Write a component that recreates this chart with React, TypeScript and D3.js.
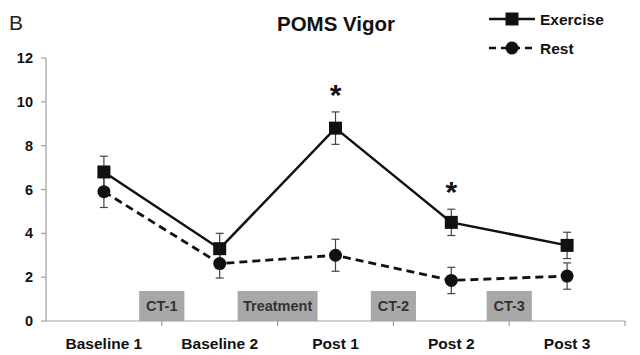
import React from "react";
import * as d3 from "d3";

const categories = ["Baseline 1", "Baseline 2", "Post 1", "Post 2", "Post 3"];
const exerciseMean = [6.8, 3.3, 8.8, 4.5, 3.45];
const exerciseSE = [0.72, 0.7, 0.74, 0.6, 0.6];
const restMean = [5.9, 2.62, 3.0, 1.85, 2.05];
const restSE = [0.72, 0.66, 0.73, 0.6, 0.6];
const yTicks = [0, 2, 4, 6, 8, 10, 12];
const significant = [false, false, true, true, false];
// shaded condition boxes: label, boundary index (between categories), width in category fraction
const boxLabels = ["CT-1", "Treatment", "CT-2", "CT-3"];
const boxBoundaries = [1, 2, 3, 4];
const boxWidths = [0.39, 0.69, 0.39, 0.39];
const boxHeight = 1.37;

export default function App() {
  const W = 640, H = 355;
  const x0 = 46, x1 = 625, yTop = 58, yBot = 321;
  const y = d3.scaleLinear().domain([0, 12]).range([yBot, yTop]);
  const band = d3.scaleBand<string>().domain(categories).range([x0, x1]).padding(0);
  const cx = (i: number) => (band(categories[i]) as number) + band.bandwidth() / 2;
  const bw = band.bandwidth();
  const font = "'Liberation Sans', Arial, sans-serif";

  const line = d3.line<number>().x((_, i) => cx(i)).y((d) => y(d));

  return (
    <svg width={W} height={H} style={{ position: "absolute", left: 0, top: 0, background: "#fff" }} fontFamily={font}>
      <text x={9} y={30} fontSize={21} fill="#222">B</text>
      <text x={336} y={31} fontSize={20.5} fontWeight="bold" textAnchor="middle" fill="#111">POMS Vigor</text>

      {/* legend */}
      <line x1={489} x2={535} y1={19} y2={19} stroke="#111" strokeWidth={2.5} />
      <rect x={505.5} y={12.5} width={13} height={13} fill="#111" />
      <text x={540} y={24.5} fontSize={15.5} fontWeight="bold" fill="#111">Exercise</text>
      <line x1={489} x2={535} y1={48} y2={48} stroke="#111" strokeWidth={2.5} strokeDasharray="7,5" />
      <circle cx={512} cy={48} r={6.5} fill="#111" />
      <text x={540} y={53.5} fontSize={15.5} fontWeight="bold" fill="#111">Rest</text>

      {/* shaded boxes */}
      {boxLabels.map((lab, k) => {
        const bx = x0 + boxBoundaries[k] * bw;
        const w = boxWidths[k] * bw;
        return (
          <g key={lab}>
            <rect x={bx - w / 2} y={y(boxHeight)} width={w} height={y(0) - y(boxHeight)} fill="#a8a8a8" />
            <text x={bx} y={y(boxHeight / 2) + 5} fontSize={14.5} fontWeight="bold" textAnchor="middle" fill="#333">{lab}</text>
          </g>
        );
      })}

      {/* axes */}
      <line x1={x0} x2={x0} y1={yTop} y2={yBot} stroke="#a0a0a0" strokeWidth={1.2} />
      <line x1={x0} x2={x1} y1={yBot} y2={yBot} stroke="#a0a0a0" strokeWidth={1.2} />
      {yTicks.map((t) => (
        <g key={t}>
          <line x1={x0 - 5} x2={x0} y1={y(t)} y2={y(t)} stroke="#a0a0a0" strokeWidth={1.2} />
          <text x={33} y={y(t) + 5} fontSize={14.5} fontWeight="bold" textAnchor="end" fill="#111">{t}</text>
        </g>
      ))}
      {d3.range(1, categories.length + 1).map((k) => (
        <line key={k} x1={x0 + k * bw} x2={x0 + k * bw} y1={yBot} y2={yBot + 5} stroke="#a0a0a0" strokeWidth={1.2} />
      ))}
      {categories.map((c, i) => (
        <text key={c} x={cx(i)} y={349} fontSize={15.5} fontWeight="bold" textAnchor="middle" fill="#111">{c}</text>
      ))}

      {/* error bars */}
      {[{ m: exerciseMean, s: exerciseSE }, { m: restMean, s: restSE }].map((ser, si) =>
        ser.m.map((v, i) => (
          <g key={`${si}-${i}`} stroke="#444" strokeWidth={1.2}>
            <line x1={cx(i)} x2={cx(i)} y1={y(v + ser.s[i])} y2={y(v - ser.s[i])} />
            <line x1={cx(i) - 4} x2={cx(i) + 4} y1={y(v + ser.s[i])} y2={y(v + ser.s[i])} />
            <line x1={cx(i) - 4} x2={cx(i) + 4} y1={y(v - ser.s[i])} y2={y(v - ser.s[i])} />
          </g>
        ))
      )}

      {/* lines */}
      <path d={line(restMean) || ""} fill="none" stroke="#111" strokeWidth={2.8} strokeDasharray="8,5" />
      <path d={line(exerciseMean) || ""} fill="none" stroke="#111" strokeWidth={2.5} />

      {restMean.map((v, i) => (
        <circle key={i} cx={cx(i)} cy={y(v)} r={6.5} fill="#111" />
      ))}
      {exerciseMean.map((v, i) => (
        <rect key={i} x={cx(i) - 6.5} y={y(v) - 6.5} width={13} height={13} fill="#111" />
      ))}

      {significant.map((s, i) =>
        s ? (
          <text key={i} x={cx(i)} y={y(exerciseMean[i] + exerciseSE[i]) - 7} fontSize={30} fontWeight="bold" textAnchor="middle" fill="#111">*</text>
        ) : null
      )}
    </svg>
  );
}
